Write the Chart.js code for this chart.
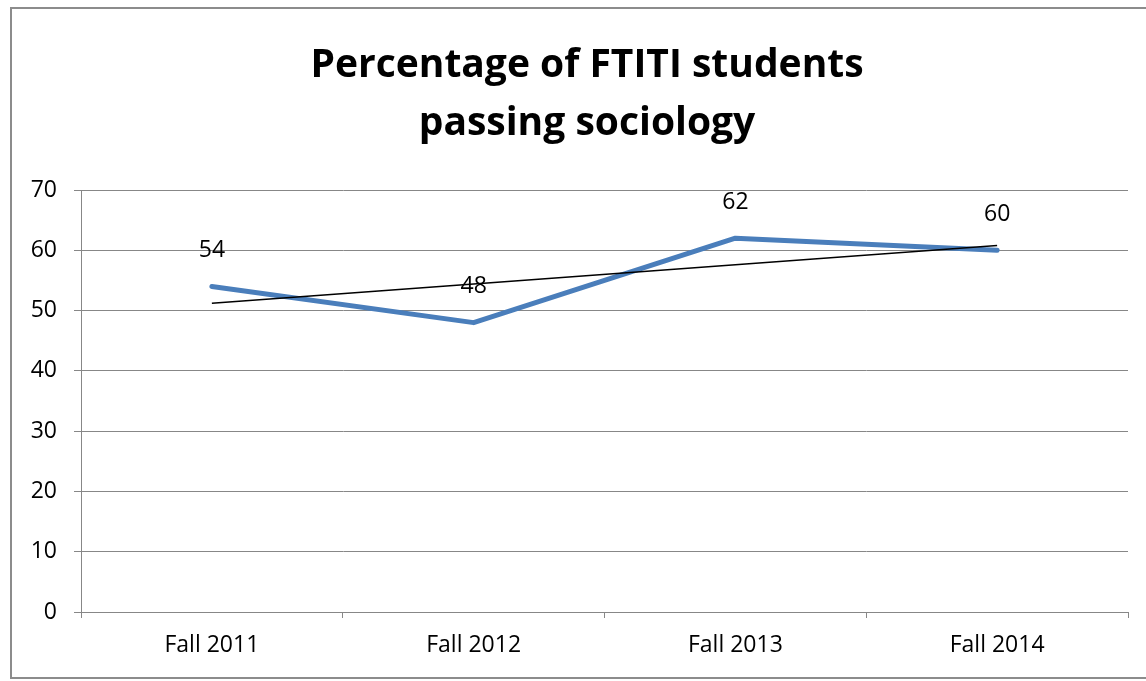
<!DOCTYPE html>
<html>
<head>
<meta charset="utf-8">
<script src="https://cdn.jsdelivr.net/npm/chart.js@4/dist/chart.umd.min.js"></script>
<style>
  html, body { margin: 0; padding: 0; background: #fff; }
  #wrap { position: relative; width: 1146px; height: 681px; overflow: hidden; }
  #frame {
    position: absolute; left: 10px; top: 7px;
    width: 1160px; height: 668px;
    border: 2px solid #8c8c8c;
  }
  #chart { position: absolute; left: 0; top: 0; }
</style>
</head>
<body>
<div id="wrap">
  <div id="frame"></div>
  <canvas id="chart" width="1146" height="681"></canvas>
</div>
<script>
/* ---------- data ---------- */
const categories  = ['Fall 2011', 'Fall 2012', 'Fall 2013', 'Fall 2014'];
const passRates   = [54, 48, 62, 60];
const trendValues = [51.2, 54.4, 57.6, 60.8];   // linear trendline
const titleLines  = ['Percentage of FTITI students', 'passing sociology'];
const yMin = 0, yMax = 70, yStep = 10;

const GRID = '#878787';
const BLUE = '#4a7ebb';
const FONT = '"Open Sans", Lato, sans-serif';

// two-line bold title, centred over the frame
const chartTitle = {
  id: 'chartTitle',
  afterDraw(chart) {
    const ctx = chart.ctx;
    ctx.save();
    ctx.font = `bold 39px ${FONT}`;
    ctx.fillStyle = '#000';
    ctx.textAlign = 'center';
    ctx.textBaseline = 'alphabetic';
    ctx.fillText(titleLines[0], 587, 77);
    ctx.fillText(titleLines[1], 587, 135);
    ctx.restore();
  }
};

// value labels above each point of the main series
const valueLabels = {
  id: 'valueLabels',
  afterDatasetsDraw(chart) {
    const meta = chart.getDatasetMeta(1);
    const ctx  = chart.ctx;
    ctx.save();
    ctx.font = `23px ${FONT}`;
    ctx.fillStyle = '#000';
    ctx.textAlign = 'center';
    ctx.textBaseline = 'middle';
    meta.data.forEach((pt, i) => {
      ctx.fillText(String(passRates[i]), pt.x, pt.y - 36);
    });
    ctx.restore();
  }
};

new Chart(document.getElementById('chart').getContext('2d'), {
  type: 'line',
  data: {
    labels: categories,
    datasets: [
      {
        label: 'Trend',
        data: trendValues,
        borderColor: '#000',
        borderWidth: 1.5,
        pointRadius: 0,
        tension: 0,
        fill: false
      },
      {
        label: 'Pass rate',
        data: passRates,
        borderColor: BLUE,
        borderWidth: 5,
        borderCapStyle: 'round',
        borderJoinStyle: 'round',
        pointRadius: 0,
        tension: 0,
        fill: false
      }
    ]
  },
  options: {
    responsive: false,
    animation: false,
    layout: { padding: { left: 16, right: 18, top: 190, bottom: 0 } },
    plugins: {
      legend:  { display: false },
      tooltip: { enabled: false },
      title:   { display: false }
    },
    scales: {
      x: {
        offset: true,
        grid: { offset: true, drawOnChartArea: false, color: GRID, tickLength: 6 },
        border: { color: GRID },
        ticks: { color: '#000', font: { family: FONT, size: 23 }, padding: 14, maxRotation: 0 },
        afterFit(scale) { scale.height = 69; }
      },
      y: {
        min: yMin, max: yMax,
        grid: { color: GRID, tickLength: 7 },
        border: { color: GRID },
        ticks: { stepSize: yStep, color: '#000', font: { family: FONT, size: 23 }, padding: 17 },
        afterFit(scale) { scale.width = 65; }
      }
    }
  },
  plugins: [valueLabels, chartTitle]
});
</script>
</body>
</html>
